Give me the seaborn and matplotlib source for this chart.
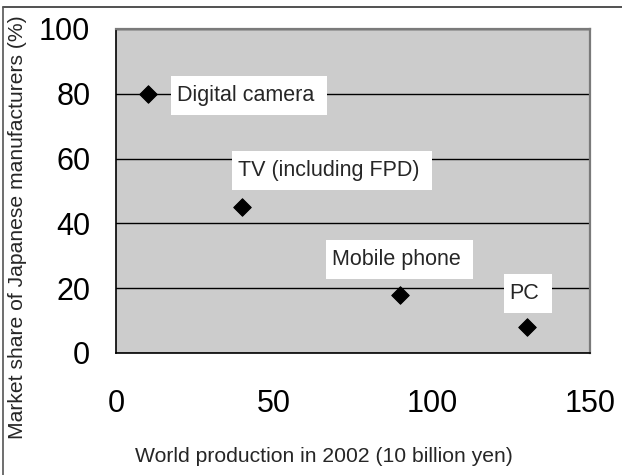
import matplotlib
matplotlib.use("Agg")
import matplotlib.pyplot as plt
import seaborn as sns
import pandas as pd
from matplotlib.lines import Line2D
from matplotlib.path import Path

# --- data ---
products = ["Digital camera", "TV (including FPD)", "Mobile phone", "PC"]
world_production = [10, 40, 90, 130]   # 10 billion yen, 2002
market_share = [80, 45, 18, 8]         # % held by Japanese makers
x_ticks = [0, 50, 100, 150]
y_ticks = [0, 20, 40, 60, 80, 100]

# where the label texts sit (data units, text centre)
label_pos = [(40.9, 79.4), (67.2, 56.4), (88.6, 28.9), (129.3, 18.5)]

df = pd.DataFrame({"product": products,
                   "production": world_production,
                   "share": market_share})


def label_box(x0, y0, width, height, mutation_size):
    # white box, a bit wider on the right side like the original
    left, right, pv = 0.25 * mutation_size, 0.6 * mutation_size, 0.42 * mutation_size
    return Path([(x0 - left, y0 - pv), (x0 + width + right, y0 - pv),
                 (x0 + width + right, y0 + height + pv), (x0 - left, y0 + height + pv),
                 (x0 - left, y0 - pv)], closed=True)


sns.set_theme(style="white")
plt.rcParams["font.family"] = ["Liberation Sans", "DejaVu Sans"]

fig = plt.figure(figsize=(6.22, 4.75), dpi=100)
W, H = 622, 475
ax = fig.add_axes([116 / W, 1 - 353 / H, (590 - 116) / W, (353 - 29) / H])
ax.set_facecolor("#cccccc")
ax.set_axisbelow(True)
ax.yaxis.grid(True, color="black", linewidth=1)
ax.xaxis.grid(False)

sns.scatterplot(data=df, x="production", y="share", marker="D", s=80,
                color="black", edgecolor="black", ax=ax, zorder=3, legend=False)

for name, (lx, ly) in zip(products, label_pos):
    ax.text(lx, ly, name, ha="center", va="center", fontsize=15.5,
            bbox=dict(boxstyle=label_box, fc="white", ec="none"),
            zorder=4)

ax.set_xlim(0, 150)
ax.set_ylim(0, 100)
ax.set_xticks(x_ticks)
ax.set_yticks(y_ticks)
ax.tick_params(direction="in", length=7, width=1, labelsize=22,
               color="black", labelcolor="black")
ax.tick_params(axis="x", pad=26)
ax.tick_params(axis="y", pad=18.5)

for side in ["left", "bottom"]:
    ax.spines[side].set_color("black")
    ax.spines[side].set_linewidth(1.2)
for side in ["top", "right"]:
    ax.spines[side].set_color("#7a7a7a")
    ax.spines[side].set_linewidth(1.6)

ax.set_xlabel("World production in 2002 (10 billion yen)", fontsize=15.2)
ax.set_ylabel("Market share of Japanese manufacturers (%)", fontsize=15.2)
ax.xaxis.set_label_coords((324 - 116) / 474, -(457 - 353) / 324)
ax.xaxis.label.set_va("center")
ax.yaxis.set_label_coords(-(116 - 18) / 474, (353 - 227) / 324)
ax.yaxis.label.set_va("center")

# thin frame line along the top and left of the picture
fig.add_artist(Line2D([3 / W, 1], [1 - 7 / H] * 2, transform=fig.transFigure,
                      color="#333333", linewidth=1.2))
fig.add_artist(Line2D([3 / W] * 2, [0, 1 - 7 / H], transform=fig.transFigure,
                      color="#555555", linewidth=1.2))

fig.savefig("out.png", dpi=100, facecolor="white")
